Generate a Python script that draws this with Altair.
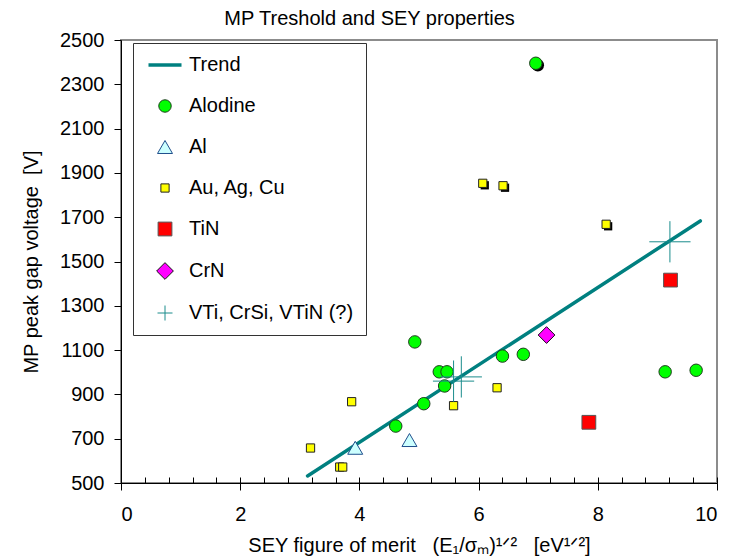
import altair as alt
import pandas as pd

# ---------------- data ----------------
SERIES = ["Trend", "Alodine", "Al", "Au, Ag, Cu", "TiN", "CrN", "VTi, CrSi, VTiN (?)"]

TREND_X = [3.13, 9.72]
TREND_Y = [532, 1683]

ALODINE_X = [4.93, 5.34, 5.47, 5.43, 5.08, 4.61, 6.40, 6.75, 9.13, 9.65, 6.96]
ALODINE_Y = [1137, 1002, 1002, 938, 858, 757, 1073, 1081, 1002, 1009, 2395]

AL_X = [3.93, 4.84]
AL_Y = [659, 694]

AU_X = [3.18, 3.87, 3.67, 3.72, 5.58, 6.31, 6.07, 6.41, 8.14]
AU_Y = [658, 867, 572, 572, 849, 930, 1853, 1842, 1668]

TIN_X = [7.85, 9.22]
TIN_Y = [774, 1416]

CRN_X = [7.14]
CRN_Y = [1168]

VTI_X = [5.58, 5.71, 9.21]
VTI_Y = [960, 979, 1589]

# points drawn with a drop shadow in the reference (series, index)
SHADOWED = [("Alodine", 10), ("Au, Ag, Cu", 6), ("Au, Ag, Cu", 7), ("Au, Ag, Cu", 8)]

Y_TICKS = list(range(500, 2501, 200))
X_TICKS = [0, 2, 4, 6, 8, 10]
X_MINOR = [round(0.4 * i, 1) for i in range(26)]


def frame(name, xs, ys):
    return pd.DataFrame({"x": xs, "y": ys, "series": name, "idx": range(len(xs))})


trend_df = frame(SERIES[0], TREND_X, TREND_Y)
pts_df = pd.concat([
    frame(SERIES[1], ALODINE_X, ALODINE_Y),
    frame(SERIES[2], AL_X, AL_Y),
    frame(SERIES[3], AU_X, AU_Y),
    frame(SERIES[4], TIN_X, TIN_Y),
    frame(SERIES[5], CRN_X, CRN_Y),
], ignore_index=True)
pts_df["shadow"] = [(s, i) in SHADOWED for s, i in zip(pts_df["series"], pts_df["idx"])]
shadow_df = pts_df[pts_df["shadow"]].copy()
cross_df = frame(SERIES[6], VTI_X, VTI_Y)

# ---------------- styling ----------------
FONT = "Liberation Sans"
TEAL = "#008080"
PLUS = "M-1,0H1M0,-1V1"
NB = "\u00a0"

stroke_scale = alt.Scale(domain=SERIES, range=[TEAL, "#1e3d1e", "#1f4e8c", "#222222", "#555555", "#111111", "#1a8c8c"])
fill_scale = alt.Scale(domain=SERIES, range=["transparent", "#00ff00", "#ccffff", "#ffff00", "#ff0000", "#ff00ff", "transparent"])
shape_scale = alt.Scale(domain=SERIES, range=["M-2.2,0H2.2", "circle", "triangle-up", "square", "square", "diamond", PLUS])
size_scale = alt.Scale(type="ordinal", domain=SERIES, range=[225, 155, 225, 68, 190, 280, 225])
sw_scale = alt.Scale(type="ordinal", domain=SERIES, range=[3.5, 1, 1, 1, 1, 1, 1])

legend = alt.Legend(
    orient="none", legendX=12, legendY=3, direction="vertical", title=None,
    strokeColor="#333333", fillColor="white", padding=12, rowPadding=21,
    labelFontSize=20, labelFont=FONT, labelColor="black", labelLimit=0,
    symbolOffset=10, labelOffset=14,
)

xscale = alt.Scale(domain=[0, 10], nice=False, zero=False)
yscale = alt.Scale(domain=[500, 2500], nice=False, zero=False)

y_axis = alt.Axis(
    values=Y_TICKS, format="d", title="MP peak gap voltage" + NB + NB + "[V]", grid=False,
    domainColor="black", domainWidth=1, tickColor="black", tickSize=7,
    labelFontSize=20, labelFont=FONT, labelColor="black", labelPadding=10,
    titleFontSize=20, titleFont=FONT, titleFontWeight="normal", titleColor="black",
    titlePadding=18,
)
x_axis = alt.Axis(
    values=X_TICKS, orient="bottom", grid=False,
    title=("SEY figure of merit" + NB * 3 + "(E\u2081/\u03c3\u2098)\u00b9\u141f\u00b2"
           + NB * 3 + "[eV\u00b9\u141f\u00b2]"),
    domainColor="black", domainWidth=1, tickColor="black", tickSize=7,
    labelFontSize=20, labelFont=FONT, labelColor="black", labelPadding=14,
    titleFontSize=20, titleFont=FONT, titleFontWeight="normal", titleColor="black",
    titlePadding=11,
)
x_minor_axis = alt.Axis(
    values=X_MINOR, orient="bottom", offset=-6, grid=False, domain=False,
    labels=False, title=None, tickColor="black", tickSize=6,
)

Y = alt.Y("y:Q", scale=yscale, axis=y_axis)

trend = alt.Chart(trend_df).mark_line(opacity=1, strokeCap="round").encode(
    x=alt.X("x:Q", scale=xscale, axis=x_minor_axis),
    y=Y,
    stroke=alt.Stroke("series:N", scale=stroke_scale, legend=legend),
    strokeWidth=alt.StrokeWidth("series:N", scale=sw_scale, legend=legend),
)

shadow = alt.Chart(shadow_df).mark_point(filled=True, opacity=1, color="black", xOffset=2, yOffset=2, strokeWidth=0).encode(
    x=alt.X("x:Q", scale=xscale, axis=None),
    y=Y,
    shape=alt.Shape("series:N", scale=shape_scale, legend=None),
    size=alt.Size("series:N", scale=size_scale, legend=None),
)

points = alt.Chart(pts_df).mark_point(filled=True, opacity=1).encode(
    x=alt.X("x:Q", scale=xscale, axis=x_axis),
    y=Y,
    stroke=alt.Stroke("series:N", scale=stroke_scale, legend=legend),
    fill=alt.Fill("series:N", scale=fill_scale, legend=legend),
    shape=alt.Shape("series:N", scale=shape_scale, legend=legend),
    size=alt.Size("series:N", scale=size_scale, legend=legend),
    strokeWidth=alt.StrokeWidth("series:N", scale=sw_scale, legend=legend),
)

crosses = alt.Chart(cross_df).mark_point(filled=True, opacity=1).encode(
    x=alt.X("x:Q", scale=xscale, axis=None),
    y=Y,
    stroke=alt.Stroke("series:N", scale=stroke_scale, legend=legend),
    fill=alt.Fill("series:N", scale=fill_scale, legend=legend),
    shape=alt.Shape("series:N", scale=shape_scale, legend=legend),
    size=alt.value(1700),
    strokeWidth=alt.StrokeWidth("series:N", scale=sw_scale, legend=legend),
)

chart = alt.layer(trend, shadow, points, crosses).resolve_axis(x="independent").properties(
    width=596, height=443,
    title=alt.TitleParams("MP Treshold and SEY properties", font=FONT, fontSize=20,
                          fontWeight="normal", color="black", anchor="middle",
                          frame="bounds", offset=1),
    autosize=alt.AutoSizeParams(type="none"),
    padding={"left": 121, "top": 40, "right": 13, "bottom": 76},
    background="white",
).configure_view(stroke="#8c8c8c", strokeWidth=2)

chart.save("out.html", embed_options={"renderer": "svg", "actions": False})
